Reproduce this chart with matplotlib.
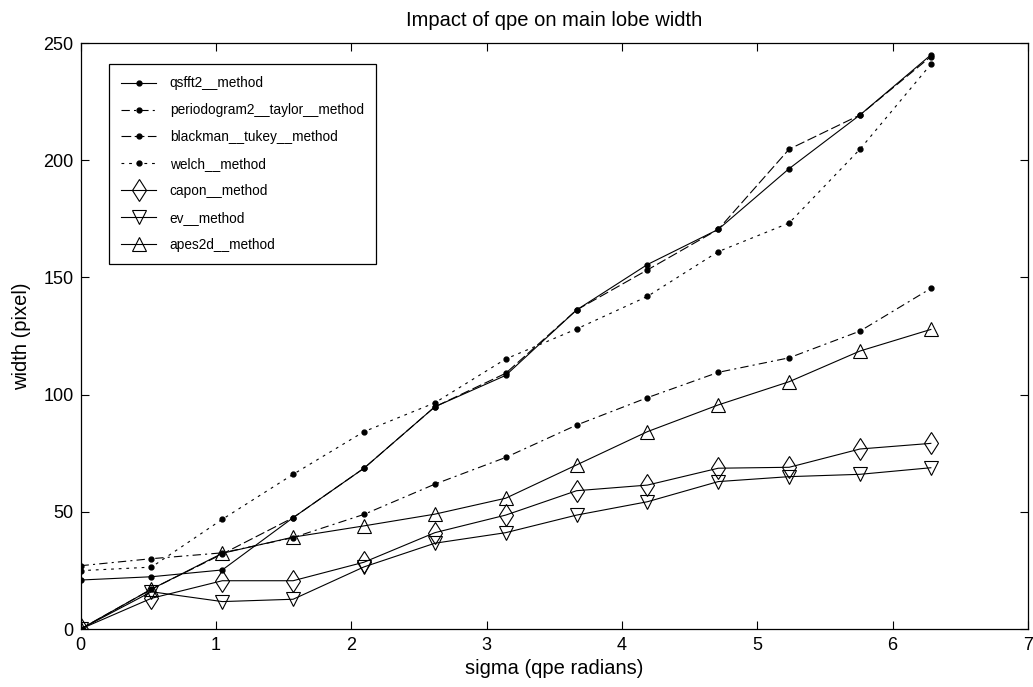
import numpy as np
import matplotlib
matplotlib.use('Agg')
import matplotlib.pyplot as plt

plt.rcParams['font.family'] = ['Liberation Sans', 'DejaVu Sans']
plt.rcParams['lines.scale_dashes'] = False

# sigma = k * pi/6, k = 0..12
sigma = np.arange(13) * np.pi / 6

qsfft2 = [20.9, 22.3, 25.2, 47.5, 68.6, 94.8, 108.2, 136.1, 155.5, 170.5, 196.4, 219.3, 244.9]
periodogram2_taylor = [27.0, 30.0, 32.5, 39.0, 48.9, 61.8, 73.2, 87.0, 98.7, 109.5, 115.7, 127.1, 145.3]
blackman_tukey = [0.0, 17.0, 32.0, 47.5, 68.6, 94.8, 109.1, 136.1, 153.2, 170.5, 204.7, 219.3, 244.2]
welch = [24.9, 26.4, 46.8, 66.0, 84.2, 96.5, 115.2, 128.0, 141.9, 161.0, 173.2, 204.7, 240.9]
capon = [0.0, 13.1, 20.6, 20.6, 28.5, 41.1, 48.6, 59.0, 61.4, 68.6, 69.0, 76.8, 79.2]
ev = [0.0, 15.9, 11.7, 12.7, 26.5, 36.6, 41.1, 48.6, 54.3, 62.9, 65.0, 66.0, 68.8]
apes2d = [0.0, 17.0, 32.3, 39.2, 44.0, 49.0, 55.8, 70.0, 84.2, 95.6, 105.5, 118.6, 127.8]

labels = ['qsfft2__method', 'periodogram2__taylor__method', 'blackman__tukey__method',
          'welch__method', 'capon__method', 'ev__method', 'apes2d__method']

fig = plt.figure(figsize=(10.33, 6.87), dpi=100)
ax = fig.add_axes([0.078, 0.0844, 0.917, 0.853])

lw = 0.8
dot = dict(marker='o', markersize=3.5, markerfacecolor='k', markeredgecolor='k')
hollow = dict(markerfacecolor='none', markeredgecolor='k', markeredgewidth=0.8)

ax.plot(sigma, qsfft2, color='k', lw=lw, linestyle='-', label=labels[0], **dot)
ax.plot(sigma, periodogram2_taylor, color='k', lw=lw, dashes=(6, 3, 1.5, 3), label=labels[1], **dot)
ax.plot(sigma, blackman_tukey, color='k', lw=lw, dashes=(7, 2.5), label=labels[2], **dot)
ax.plot(sigma, welch, color='k', lw=lw, dashes=(2, 3.5), label=labels[3], **dot)
ax.plot(sigma, capon, color='k', lw=lw, linestyle='-', marker='d', markersize=11.5, label=labels[4], **hollow)
ax.plot(sigma, ev, color='k', lw=lw, linestyle='-', marker='v', markersize=10, label=labels[5], **hollow)
ax.plot(sigma, apes2d, color='k', lw=lw, linestyle='-', marker='^', markersize=10, label=labels[6], **hollow)

ax.set_xlim(0, 7)
ax.set_ylim(0, 250)
ax.set_xticks(range(0, 8))
ax.set_yticks(range(0, 251, 50))
ax.tick_params(direction='in', length=6, width=0.8, top=True, right=True, labelsize=13)
ax.tick_params(axis='x', pad=6)
ax.tick_params(axis='y', pad=5)
for s in ax.spines.values():
    s.set_linewidth(0.9)

ax.set_title('Impact of qpe on main lobe width', fontsize=14.5, pad=12)
ax.set_xlabel('sigma (qpe radians)', fontsize=14.5, labelpad=3)
ax.set_ylabel('width (pixel)', fontsize=14.5, labelpad=9)

leg = ax.legend(loc='upper left', bbox_to_anchor=(0.0296, 0.964), borderaxespad=0,
                fontsize=9.8, frameon=True, fancybox=False, edgecolor='k', framealpha=1,
                handlelength=2.6, labelspacing=0.95, borderpad=0.9, handletextpad=1.0)
leg.get_frame().set_linewidth(0.9)

fig.savefig('out.png', dpi=100)
